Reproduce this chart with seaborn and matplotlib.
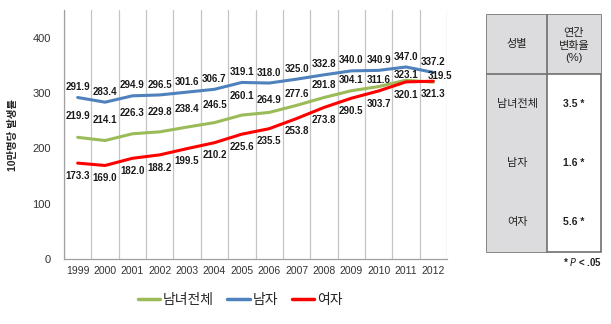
import matplotlib
matplotlib.use("Agg")
import matplotlib.pyplot as plt
import seaborn as sns
import pandas as pd
from matplotlib.patches import Rectangle
from matplotlib.lines import Line2D

years = ["1999", "2000", "2001", "2002", "2003", "2004", "2005",
         "2006", "2007", "2008", "2009", "2010", "2011", "2012"]
series_names = ["남녀전체", "남자", "여자"]
total = [219.9, 214.1, 226.3, 229.8, 238.4, 246.5, 260.1, 264.9, 277.6, 291.8, 304.1, 311.6, 323.1, 319.5]
male = [291.9, 283.4, 294.9, 296.5, 301.6, 306.7, 319.1, 318.0, 325.0, 332.8, 340.0, 340.9, 347.0, 337.2]
female = [173.3, 169.0, 182.0, 188.2, 199.5, 210.2, 225.6, 235.5, 253.8, 273.8, 290.5, 303.7, 320.1, 321.3]
ylabel = "10만명당 발생률"

table_header = ["성별", "연간", "변화율", "(%)"]
table_rows = ["남녀전체", "남자", "여자"]
table_vals = ["3.5 *", "1.6 *", "5.6 *"]

colors = {"남녀전체": "#9BBB59", "남자": "#4F81BD", "여자": "#FF0000"}

sns.set_style("white")
plt.rcParams["font.family"] = ["Liberation Sans", "Noto Sans CJK KR", "DejaVu Sans"]

rows = []
for name, vals in zip(series_names, [total, male, female]):
    for i, (y, v) in enumerate(zip(years, vals)):
        rows.append({"idx": i, "year": y, "series": name, "value": v})
df = pd.DataFrame(rows)

fig = plt.figure(figsize=(6.11, 3.24), dpi=100)
ax = fig.add_axes([64/611, 1-259/324, (447-64)/611, (259-10)/324])

sns.lineplot(data=df, x="idx", y="value", hue="series", hue_order=series_names,
             palette=colors, linewidth=2.2, ax=ax, legend=False)

# data labels
green_off = [-15, -15, -15, -14, -13, -13, -14, -9, -8, -9, -8, -5, -3.5, -4.5]
green_dx = [0]*13 + [5]
lab_kw = dict(textcoords="offset points", ha="center", va="center",
              fontsize=7.0, fontweight="bold", color="#1a1a1a")
for i, v in enumerate(male):
    ax.annotate(f"{v:.1f}", (i, v), xytext=(0, 7.5), **lab_kw)
for i, v in enumerate(total):
    ax.annotate(f"{v:.1f}", (i, v), xytext=(green_dx[i], -green_off[i]), **lab_kw)
for i, v in enumerate(female):
    ax.annotate(f"{v:.1f}", (i, v), xytext=(0, -9.2), **lab_kw)

ax.set_xlim(-0.5, len(years) - 0.5)
ax.set_ylim(0, 450)
ax.set_xticks(range(len(years)))
ax.set_xticklabels(years, fontsize=7.5, color="#333333")
ax.set_xticks([i - 0.5 for i in range(len(years) + 1)], minor=True)
ax.tick_params(axis="x", which="major", length=0, pad=5)
ax.tick_params(axis="x", which="minor", length=3.5, color="#a0a0a0", width=0.8)
ax.set_yticks([0, 100, 200, 300, 400])
ax.tick_params(axis="y", labelsize=8, labelcolor="#333333", length=3.5, color="#a0a0a0", width=0.8, pad=6)
ax.grid(False)
ax.grid(True, axis="x", which="minor", color="#c4c4c4", linewidth=0.9)
ax.set_axisbelow(True)
for s in ["top", "right"]:
    ax.spines[s].set_visible(False)
for s in ["left", "bottom"]:
    ax.spines[s].set_color("#a0a0a0")
    ax.spines[s].set_linewidth(0.9)
ax.set_xlabel("")
ax.set_ylabel(ylabel, fontsize=7.5, fontweight="bold", labelpad=10)

# legend
handles = [Line2D([], [], color=colors[n], linewidth=2.5) for n in series_names]
fig.legend(handles, series_names, loc="center", bbox_to_anchor=(240/611, 1-300/324),
           ncol=3, frameon=False, fontsize=10, handlelength=1.6, handletextpad=0.2,
           columnspacing=1.0)

# table
def fx(px):
    return px / 611
def fy(py):
    return 1 - py / 324

L, M, R = 487, 547, 601
T, H, B = 15, 74, 252
rh = (B - H) / 3
edge = "#707070"
fill = "#dcdbdd"
fig.patches.append(Rectangle((fx(L), fy(B)), fx(M) - fx(L), fy(T) - fy(B),
                             transform=fig.transFigure, facecolor=fill, edgecolor="none"))
fig.patches.append(Rectangle((fx(M), fy(H)), fx(R) - fx(M), fy(T) - fy(H),
                             transform=fig.transFigure, facecolor=fill, edgecolor="none"))
lw = 1.2
fig.add_artist(Rectangle((fx(L), fy(B)), fx(R) - fx(L), fy(T) - fy(B),
                         transform=fig.transFigure, facecolor="none", edgecolor=edge, linewidth=lw))
fig.add_artist(Line2D([fx(L), fx(R)], [fy(H), fy(H)], transform=fig.transFigure, color=edge, linewidth=lw))
fig.add_artist(Line2D([fx(M), fx(M)], [fy(T), fy(B)], transform=fig.transFigure, color=edge, linewidth=lw))

tkw = dict(ha="center", va="center", fontsize=8, color="#222222", fontweight="medium")
fig.text(fx((L + M) / 2), fy((T + H) / 2), table_header[0], **tkw)
for j, line in enumerate(table_header[1:]):
    fig.text(fx((M + R) / 2), fy(33 + 12.5 * j), line, **tkw)
for k, (name, val) in enumerate(zip(table_rows, table_vals)):
    yc = H + rh * (k + 0.5)
    fig.text(fx((L + M) / 2), fy(yc), name, **tkw)
    fig.text(fx((M + R) / 2), fy(yc), val, ha="center", va="center", fontsize=7.5,
             fontweight="bold", color="#222222")
fig.text(fx(602), fy(262), "* $\\it{P}$ < .05", ha="right", va="center", fontsize=7,
         fontweight="bold", color="#222222")

fig.savefig("out.png", dpi=100)
